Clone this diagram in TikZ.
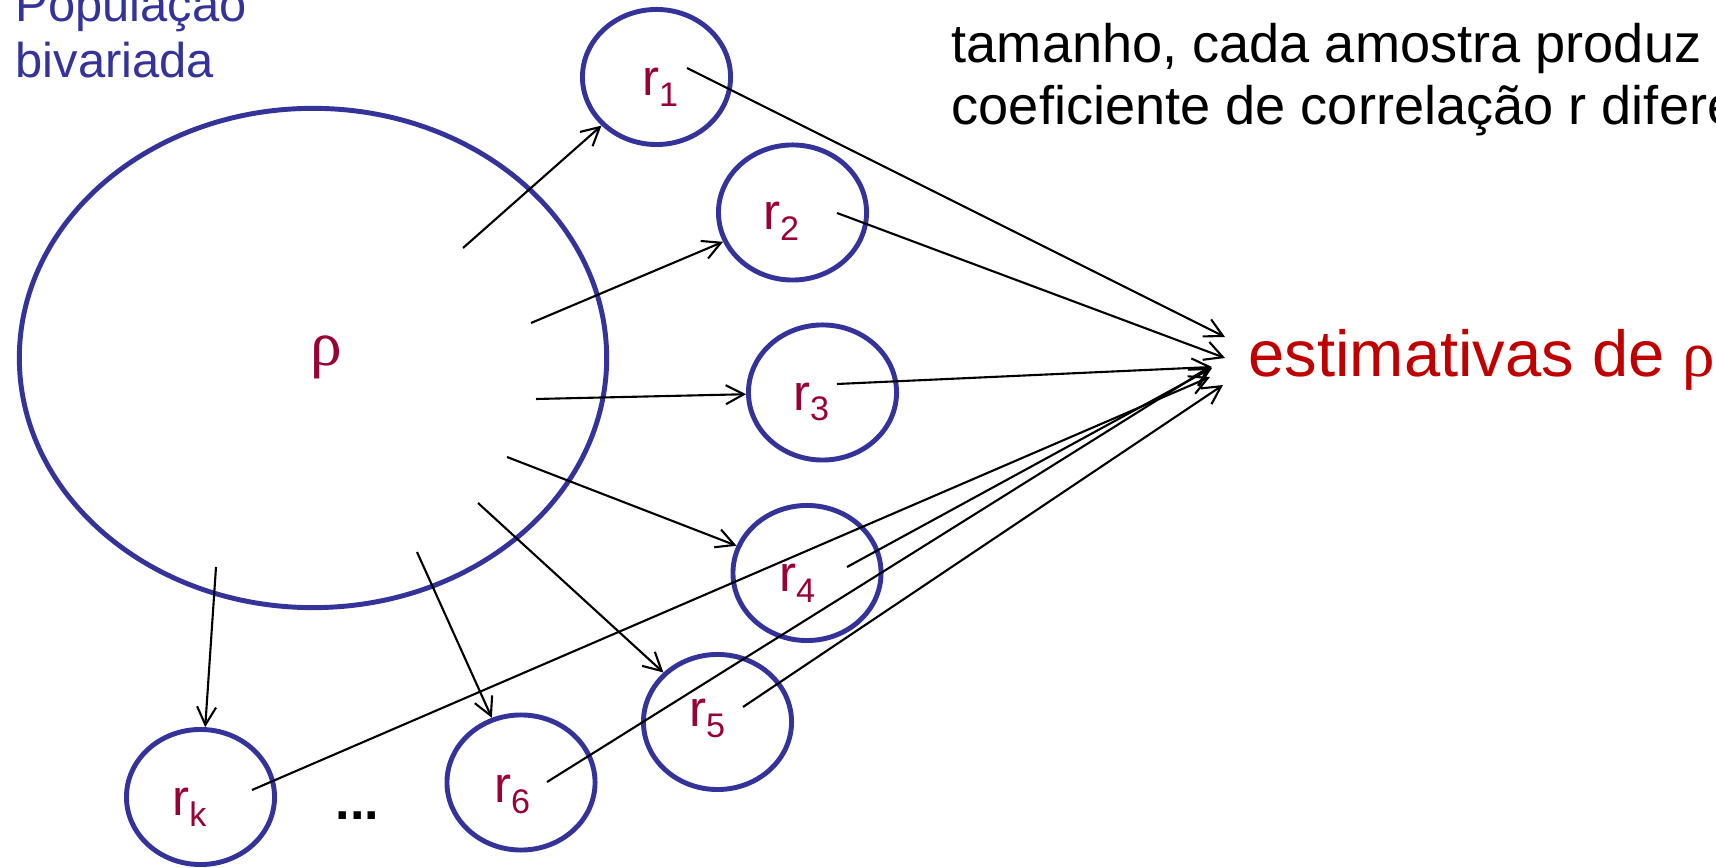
\documentclass[tikz,border=0pt]{standalone}
\usepackage{fontspec}
\setmainfont{Liberation Sans}
\newfontfamily\rhofont{Liberation Serif}
\usepackage{tikz}
\usetikzlibrary{arrows.meta,positioning,calc,shapes.geometric}
\definecolor{popblue}{RGB}{51,51,153}
\definecolor{labred}{RGB}{153,0,51}
\definecolor{estred}{RGB}{192,0,0}
\newcommand{\rsub}[1]{r\raisebox{-3.1pt}{\fontsize{9.7pt}{9.7pt}\selectfont #1}}
\tikzset{
  popu/.style={ellipse,draw=popblue,line width=1.4pt,minimum width=5.87cm,minimum height=4.99cm,inner sep=0pt},
  samp/.style={ellipse,draw=popblue,line width=1.4pt,minimum width=1.48cm,minimum height=1.35cm,inner sep=0pt},
  arr/.style={-{Straight Barb[length=1.8mm,width=1.9mm]},line width=0.6pt},
  link/.style={-{Straight Barb[length=1.8mm,width=1.9mm]},line width=0.6pt}
}

\begin{document}
\begin{tikzpicture}[
  x=0.01cm,y=-0.01cm,
  poptext/.style={font=\fontsize{13.9pt}{16.2pt}\selectfont,text=popblue,align=left,inner sep=0pt,anchor=base west},
  note/.style={font=\fontsize{15.4pt}{17.9pt}\selectfont,align=left,inner sep=0pt,anchor=base west},
  esttext/.style={font=\fontsize{18.5pt}{18.5pt}\selectfont,text=estred,inner sep=0pt,anchor=base west},
  rlab/.style={font=\fontsize{14.5pt}{14.5pt}\selectfont,text=labred,inner sep=0pt},
  rholab/.style={font=\rhofont\fontsize{18pt}{18pt}\selectfont,text=labred,inner sep=0pt}
]
\useasboundingbox (0,0) rectangle (1716,868);
\clip (0,0) rectangle (1716,868);

% base = last line
\node[poptext] (poptitle) at (15,78) {População\\bivariada};
\node[note] (topnote) at (951,125)
  {tamanho, cada amostra produz u\\coeficiente de correlação r difere};

% populacao
\node[popu] (pop) at (313,358) {};
\node[rholab] (rho) at (326,357) {ρ};

% amostras
\node[samp] (r1) at (656.5,77) {};
\node[samp] (r2) at (792.5,212.5) {};
\node[samp] (r3) at (822.5,392.5) {};
\node[samp] (r4) at (807,573) {};
\node[samp] (r5) at (717.5,722) {};
\node[samp] (r6) at (521,782.5) {};
\node[samp] (rk) at (200.5,797) {};

\node[rlab] (l1) at ($(r1)+(3.5,10.5)$) {\rsub{1}};
\node[rlab] (l2) at ($(r2)+(-11.5,8.5)$) {\rsub{2}};
\node[rlab] (l3) at ($(r3)+(-11.5,9.5)$) {\rsub{3}};
\node[rlab] (l4) at ($(r4)+(-10,10.5)$) {\rsub{4}};
\node[rlab] (l5) at ($(r5)+(-10.5,-3.5)$) {\rsub{5}};
\node[rlab] (l6) at ($(r6)+(-9,11.5)$) {\rsub{6}};
\node[rlab] (lk) at ($(rk)+(-11,10.5)$) {\rsub{k}};

\node[font=\fontsize{14.8pt}{14.8pt}\selectfont\bfseries,inner sep=0pt,anchor=base west] (dots) at (335,820) {...};

\node[esttext] (est) at (1248,377) {estimativas de {\rhofont ρ}};

% pontos de saida
\coordinate (a1) at (463,248);
\coordinate (a2) at (531,323);
\coordinate (a3) at (536,399);
\coordinate (a4) at (507,457);
\coordinate (a5) at (478,503);
\coordinate (a6) at (417,552);
\coordinate (ak) at (216,567);

\draw[arr] (a1) -- (r1);
\draw[arr] (a2) -- (r2);
\draw[arr] (a3) -- (r3);
\draw[arr] (a4) -- (r4);
\draw[arr] (a5) -- (r5);
\draw[arr] (a6) -- (r6);
\draw[arr] (ak) -- (rk);

\coordinate (s1) at (687,68);
\coordinate (s2) at (837,213);
\coordinate (s3) at (837,384);
\coordinate (s4) at (847,567);
\coordinate (s5) at (743,707);
\coordinate (s6) at (547,782);
\coordinate (sk) at (252,790);

\coordinate (t1) at ($(est.base west)+(-23,-40)$);
\coordinate (t2) at ($(est.base west)+(-23,-19)$);
\coordinate (t3) at ($(est.base west)+(-36,-10)$);
\coordinate (t4) at ($(est.base west)+(-36,-9)$);
\coordinate (t5) at ($(est.base west)+(-25,8)$);
\coordinate (t6) at ($(est.base west)+(-38,-10)$);
\coordinate (tk) at ($(est.base west)+(-38,0)$);

\draw[link] (s1) -- (t1);
\draw[link] (s2) -- (t2);
\draw[link] (s3) -- (t3);
\draw[link] (s4) -- (t4);
\draw[link] (s5) -- (t5);
\draw[link] (s6) -- (t6);
\draw[link] (sk) -- (tk);
\end{tikzpicture}
\end{document}
